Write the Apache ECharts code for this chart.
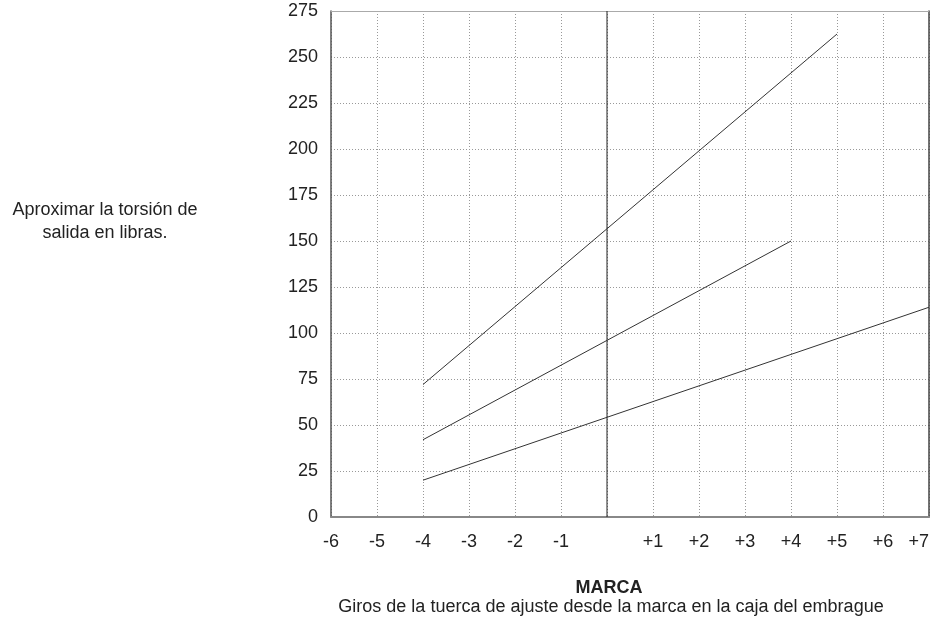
<!DOCTYPE html>
<html><head><meta charset="utf-8">
<script src="https://cdn.jsdelivr.net/npm/echarts@6/dist/echarts.min.js"></script>
<style>html,body{margin:0;padding:0;background:#fff}#c{width:934px;height:619px}</style>
</head><body><div id="c"></div>
<script>
const xTicks = [-6,-5,-4,-3,-2,-1,0,1,2,3,4,5,6,7];
const yTicks = [0,25,50,75,100,125,150,175,200,225,250,275];
const line1X = [-4, 5];
const line1Y = [72, 262.5];
const line2X = [-4, 4];
const line2Y = [42, 150];
const line3X = [-4, 7];
const line3Y = [20, 114];
const markX = [0, 0];
const markY = [0, 275];
const yTitle = 'Aproximar la torsión de\nsalida en libras.';
const xTitleBold = 'MARCA';
const xTitle = 'Giros de la tuerca de ajuste desde la marca en la caja del embrague';

const pair = (xs, ys) => xs.map((x, i) => [x, ys[i]]);
const font = '"Liberation Sans", Arial, sans-serif';
const chart = echarts.init(document.getElementById('c'), null, {renderer: 'canvas'});
const mk = (xs, ys, color) => ({type: 'line', data: pair(xs, ys), symbol: 'none', lineStyle: {color: color || '#333', width: 1}, silent: true, animation: false});

chart.setOption({
  animation: false,
  grid: {left: 331, right: 5, top: 11, bottom: 102, containLabel: false, outerBoundsMode: 'none'},
  xAxis: [{
    type: 'value', min: xTicks[0], max: xTicks[xTicks.length - 1], interval: 1,
    axisLine: {show: true, onZero: false, lineStyle: {color: '#888', width: 2}},
    axisTick: {show: false},
    axisLabel: {
      margin: 16, fontSize: 18, color: '#222', fontFamily: font, alignMaxLabel: 'right',
      formatter: v => v === 0 ? '' : (v > 0 ? '+' + v : String(v))
    },
    splitLine: {show: true, lineStyle: {color: '#999', type: [1, 2], width: 1}}
  }, {
    type: 'value', position: 'top', min: xTicks[0], max: xTicks[xTicks.length - 1], interval: 1,
    axisLine: {show: true, onZero: false, lineStyle: {color: '#aaa', width: 1}},
    axisTick: {show: false}, axisLabel: {show: false}, splitLine: {show: false}
  }],
  yAxis: [{
    type: 'value', min: yTicks[0], max: yTicks[yTicks.length - 1], interval: 25,
    axisLine: {show: true, onZero: false, lineStyle: {color: '#555', width: 1.5}},
    axisTick: {show: false},
    axisLabel: {margin: 13, fontSize: 18, color: '#222', fontFamily: font},
    splitLine: {show: true, lineStyle: {color: '#999', type: [1, 2], width: 1}}
  }, {
    type: 'value', position: 'right', min: yTicks[0], max: yTicks[yTicks.length - 1], interval: 25,
    axisLine: {show: true, onZero: false, lineStyle: {color: '#444', width: 1.5}},
    axisTick: {show: false}, axisLabel: {show: false}, splitLine: {show: false}
  }],
  series: [
    mk(markX, markY, '#222'),
    mk(line1X, line1Y),
    mk(line2X, line2Y),
    mk(line3X, line3Y)
  ],
  graphic: [
    {type: 'text', x: 105, y: 222, style: {text: yTitle, align: 'center', verticalAlign: 'middle', font: '18px ' + font, fill: '#222', lineHeight: 23}},
    {type: 'text', x: 609, y: 588, style: {text: xTitleBold, align: 'center', verticalAlign: 'middle', font: 'bold 18px ' + font, fill: '#222'}},
    {type: 'text', x: 611, y: 607, style: {text: xTitle, align: 'center', verticalAlign: 'middle', font: '18px ' + font, fill: '#222'}}
  ]
});
</script></body></html>
